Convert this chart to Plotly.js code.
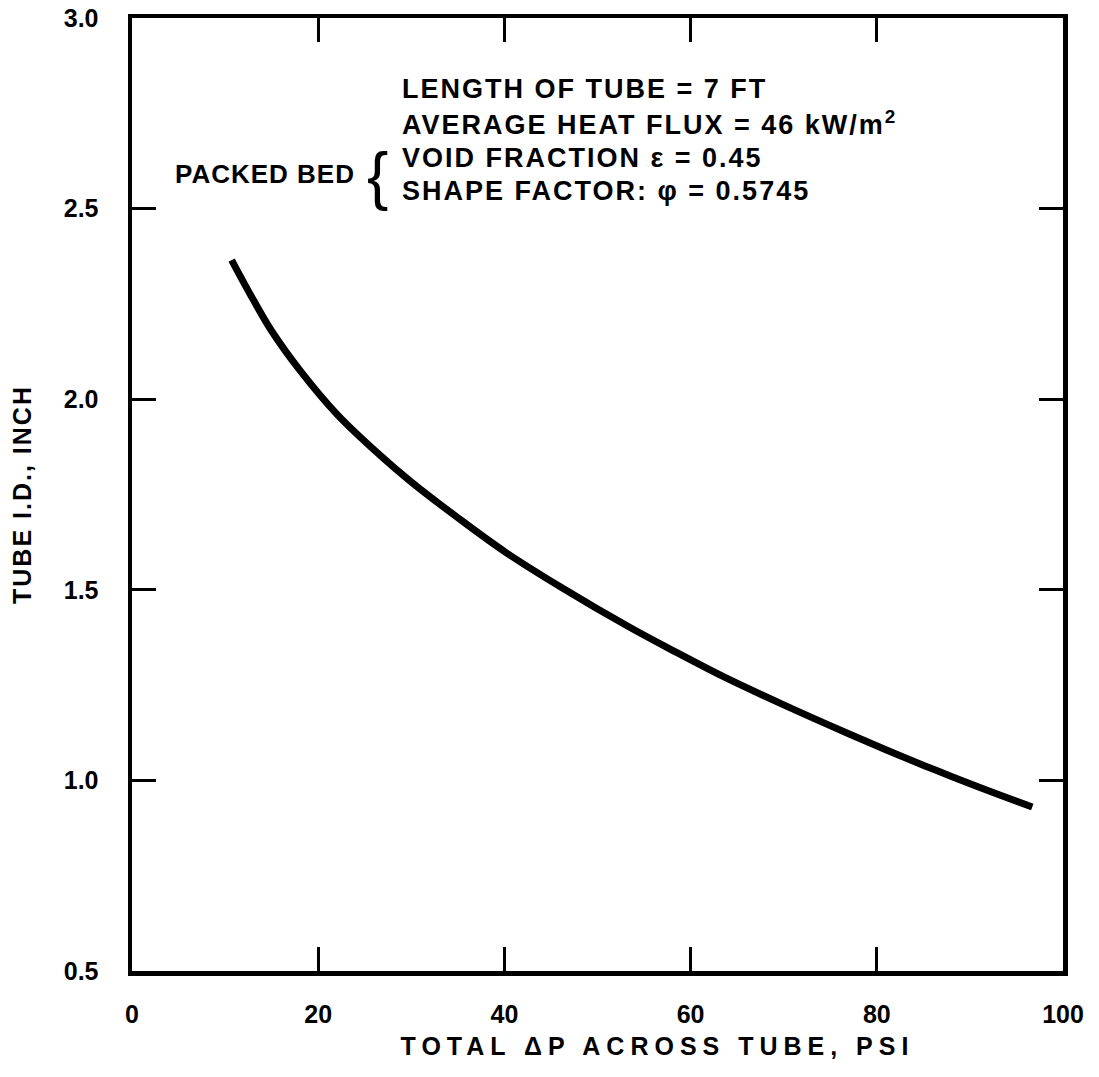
<!DOCTYPE html>
<html>
<head>
<meta charset="utf-8">
<script src="https://cdn.plot.ly/plotly-3.0.1.min.js"></script>
<style>html,body{margin:0;padding:0;background:#fff;}</style>
</head>
<body>
<div id="chart" style="width:1099px;height:1077px;"></div>
<script>
// Total pressure drop across tube (psi)
const deltaP = [10.7, 13, 15, 18, 22, 26.6, 30, 35, 40.1, 46, 53.5, 58, 63.7, 70, 77.1, 82, 86.5, 91, 96.7];
// Tube inner diameter (inch)
const tubeID = [2.365, 2.262, 2.179, 2.077, 1.961, 1.854, 1.783, 1.689, 1.599, 1.508, 1.401, 1.342, 1.270, 1.198, 1.121, 1.070, 1.025, 0.982, 0.930];

const xTicks = [0, 20, 40, 60, 80, 100];
const xTickText = ['0', '20', '40', '60', '80', '100'];
const yTicks = [0.5, 1.0, 1.5, 2.0, 2.5, 3.0];
const yTickText = ['0.5', '1.0', '1.5', '2.0', '2.5', '3.0'];

const infoLines = [
  'LENGTH OF TUBE = 7 FT',
  'AVERAGE HEAT FLUX = 46 kW/m<sup>2</sup>',
  'VOID FRACTION \u03b5 = 0.45',
  'SHAPE FACTOR: \u03c6 = 0.5745'
];
const groupLabel = 'PACKED BED';

const FONT = 'Liberation Sans, Arial, sans-serif';
const lineY = [0.926, 0.890, 0.853, 0.818];

const annotations = infoLines.map((t, i) => ({
  text: t, xref: 'paper', yref: 'paper', x: 0.288, y: lineY[i],
  xanchor: 'left', yanchor: 'middle', align: 'left', showarrow: false,
  font: {family: FONT, size: 27, color: '#000', weight: 'bold'}
}));
annotations.push({
  text: groupLabel, xref: 'paper', yref: 'paper', x: 0.242, y: 0.836,
  xanchor: 'right', yanchor: 'middle', align: 'right', showarrow: false,
  font: {family: FONT, size: 26, color: '#000', weight: 'bold'}
});
annotations.push({
  text: '{', xref: 'paper', yref: 'paper', x: 0.264, y: 0.834,
  xanchor: 'center', yanchor: 'middle', showarrow: false,
  font: {family: FONT, size: 64, color: '#000'}
});

const axisCommon = {
  showline: true, linecolor: '#000', linewidth: 4.5, mirror: 'ticks',
  ticks: 'inside', ticklen: 24, tickwidth: 3, tickcolor: '#000',
  showgrid: false, zeroline: false, fixedrange: true,
  tickfont: {family: FONT, size: 25, color: '#000', weight: 'bold'}
};

const data = [{
  x: deltaP, y: tubeID, type: 'scatter', mode: 'lines',
  line: {color: '#000', width: 7, shape: 'spline', smoothing: 1},
  hoverinfo: 'skip'
}];

const layout = {
  width: 1099, height: 1077,
  margin: {l: 132, r: 36, t: 18, b: 106},
  paper_bgcolor: '#fff', plot_bgcolor: '#fff',
  showlegend: false,
  xaxis: Object.assign({}, axisCommon, {
    range: [0, 100], tickvals: xTicks, ticktext: xTickText,
    ticklabelstandoff: 17,
    title: {text: 'TOTAL \u0394P ACROSS TUBE, PSI', standoff: 12,
            font: {family: FONT, size: 25, color: '#000', weight: 'bold'}}
  }),
  yaxis: Object.assign({}, axisCommon, {
    range: [0.5, 3.0], tickvals: yTicks, ticktext: yTickText,
    ticklabelstandoff: 24,
    title: {text: 'TUBE I.D., INCH', standoff: 26,
            font: {family: FONT, size: 25, color: '#000', weight: 'bold'}}
  }),
  annotations: annotations
};

Plotly.newPlot('chart', data, layout, {displayModeBar: false, staticPlot: true}).then(function () {
  // widen the lettering like the original typewriter-style labels
  for (let i = 0; i < infoLines.length; i++) {
    document.querySelectorAll('.annotation[data-index="' + i + '"] text').forEach(function (el) {
      el.setAttribute('letter-spacing', '2px');
    });
  }
  document.querySelectorAll('.annotation[data-index="' + infoLines.length + '"] text').forEach(function (el) {
    el.setAttribute('letter-spacing', '1px');
  });
  document.querySelectorAll('.g-xtitle text').forEach(function (el) {
    el.setAttribute('letter-spacing', '6px');
    const x0 = parseFloat(el.getAttribute('x'));
    el.setAttribute('x', x0 + 60);
  });
  document.querySelectorAll('.g-ytitle text').forEach(function (el) {
    el.setAttribute('letter-spacing', '2px');
  });
});
</script>
</body>
</html>
